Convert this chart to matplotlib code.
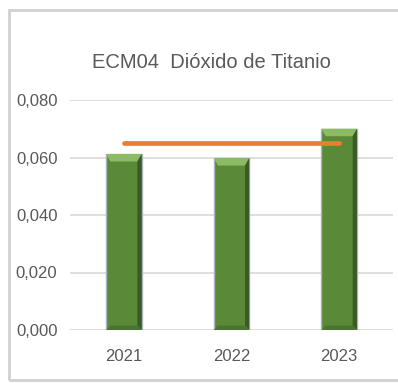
import numpy as np
import matplotlib.pyplot as plt
from matplotlib.patches import Polygon, Rectangle

years = ["2021", "2022", "2023"]
values = [0.0612, 0.0598, 0.0700]
limit = [0.065, 0.065, 0.065]
yticks = [0.0, 0.02, 0.04, 0.06, 0.08]

plt.rcParams['font.family'] = ['Liberation Sans', 'DejaVu Sans']

fig = plt.figure(figsize=(3.98, 3.83), dpi=100)

# chart frame
fig.patches.append(Rectangle((9/398, 3/383), 400/398, 370/383, transform=fig.transFigure,
                             fill=False, edgecolor="#d0d0d0", lw=2.0))

ax = fig.add_axes([70/398, 53/383, 323/398, 230/383])
x = np.arange(len(years))
w = 0.33
bars = ax.bar(x, values, width=w, color="#5a8a38", edgecolor="#a9b4c2", lw=1.0, zorder=2)

# bevel shading on each bar
for b in bars:
    x0, y0 = b.get_x(), b.get_y()
    bw, bh = b.get_width(), b.get_height()
    dx = bw * 0.12
    dy = 0.0026
    ax.add_patch(Polygon([(x0, y0 + bh), (x0 + bw, y0 + bh), (x0 + bw - dx, y0 + bh - dy),
                          (x0 + dx, y0 + bh - dy)], closed=True, color="#8cbb63", lw=0, zorder=3))
    ax.add_patch(Polygon([(x0 + bw, y0 + bh), (x0 + bw, y0), (x0 + bw - dx, y0 + dy * 0.6),
                          (x0 + bw - dx, y0 + bh - dy)], closed=True, color="#3b5a27", lw=0, zorder=3))
    ax.add_patch(Polygon([(x0, y0), (x0 + bw, y0), (x0 + bw - dx, y0 + dy * 0.6),
                          (x0 + dx, y0 + dy * 0.6)], closed=True, color="#4a7530", lw=0, zorder=3))

ax.plot(x, limit, color="#ed7d31", lw=3.4, solid_capstyle="round", zorder=4)

ax.set_xlim(-0.5, len(years) - 0.5)
ax.set_ylim(0, 0.08)
ax.set_yticks(yticks)
ax.set_yticklabels([f"{v:.3f}".replace(".", ",") for v in yticks])
ax.set_xticks(x)
ax.set_xticklabels(years)
ax.grid(axis="y", color="#d9d9d9", lw=1.2, zorder=0)
ax.set_axisbelow(True)
for s in ax.spines.values():
    s.set_visible(False)
ax.tick_params(length=0, labelsize=12, colors="#595959")
ax.tick_params(axis="y", pad=9)
ax.tick_params(axis="x", pad=14)

fig.text(211/398, 1 - 63/383, "ECM04  Dióxido de Titanio", ha="center", va="center",
         fontsize=14.5, color="#595959")

fig.savefig("out.png", dpi=100)
